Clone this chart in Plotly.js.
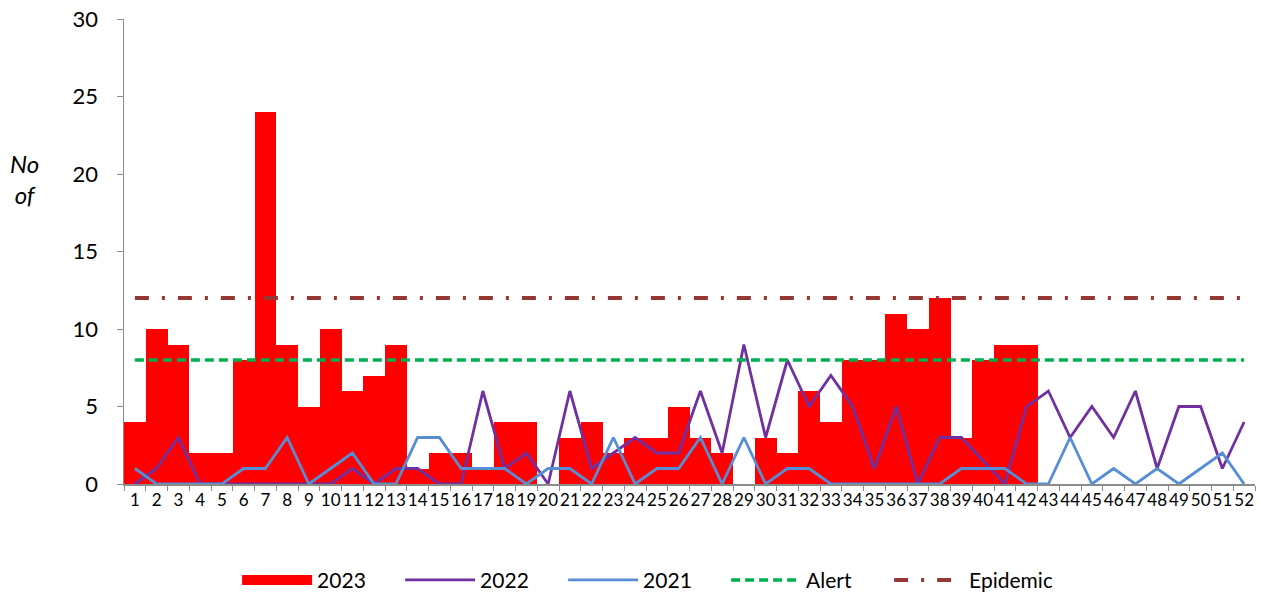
<!DOCTYPE html>
<html>
<head>
<meta charset="utf-8">
<script src="https://cdn.plot.ly/plotly-3.0.1.min.js"></script>
<style>html,body{margin:0;padding:0;background:#fff}#chart{width:1270px;height:596px}</style>
</head>
<body>
<div id="chart"></div>
<script>
const weeks = ['1','2','3','4','5','6','7','8','9','10','11','12','13','14','15','16','17','18','19','20','21','22','23','24','25','26','27','28','29','30','31','32','33','34','35','36','37','38','39','40','41','42','43','44','45','46','47','48','49','50','51','52'];
const cases2023 = [4,10,9,2,2,8,24,9,5,10,6,7,9,1,2,2,1,4,4,0,3,4,2,3,3,5,3,2,0,3,2,6,4,8,8,11,10,12,3,8,9,9,null,null,null,null,null,null,null,null,null,null];
const cases2022 = [0,1,3,0,0,0,0,0,0,0,1,0,1,1,0,0,6,1,2,0,6,1,2,3,2,2,6,2,9,3,8,5,7,5,1,5,0,3,3,1.5,0,5,6,3,5,3,6,1,5,5,1,4];
const cases2021 = [1,0,0,0,0,1,1,3,0,1,2,0,0,3,3,1,1,1,0,1,1,0,3,0,1,1,3,0,3,0,1,1,0,0,0,0,0,0,1,1,1,0,0,3,0,1,0,1,0,1,2,0];
const alertLevel = [8,8,8,8,8,8,8,8,8,8,8,8,8,8,8,8,8,8,8,8,8,8,8,8,8,8,8,8,8,8,8,8,8,8,8,8,8,8,8,8,8,8,8,8,8,8,8,8,8,8,8,8];
const epidemicLevel = [12,12,12,12,12,12,12,12,12,12,12,12,12,12,12,12,12,12,12,12,12,12,12,12,12,12,12,12,12,12,12,12,12,12,12,12,12,12,12,12,12,12,12,12,12,12,12,12,12,12,12,12];

const FONT = 'Lato, "Open Sans", "Liberation Sans", sans-serif';

const traces = [
  {type:'bar', name:'2023', x:weeks, y:cases2023, marker:{color:'#FF0000', line:{width:0}}, showlegend:false},
  // legend-only proxy giving the wide red key of the original
  {type:'scatter', mode:'lines', name:'2023', x:[null], y:[null], line:{color:'#FF0000', width:14}},
  {type:'scatter', mode:'lines', name:'2022', x:weeks, y:cases2022, line:{color:'#7030A0', width:2.8}},
  {type:'scatter', mode:'lines', name:'2021', x:weeks, y:cases2021, line:{color:'#558ED5', width:2.8}},
  {type:'scatter', mode:'lines', name:'Alert', x:weeks, y:alertLevel, line:{color:'#00B050', width:3.5, dash:'9px,5px'}},
  {type:'scatter', mode:'lines', name:'Epidemic', x:weeks, y:epidemicLevel, line:{color:'#953735', width:4, dash:'14px,13px,3px,13px'}}
];

const layout = {
  width:1270, height:596,
  margin:{l:124, r:15, t:19, b:112, autoexpand:false},
  paper_bgcolor:'#fff', plot_bgcolor:'#fff',
  bargap:0,
  showlegend:true,
  font:{family:FONT, color:'#000'},
  xaxis:{
    type:'category', tickson:'boundaries', tickangle:0, automargin:false,
    showgrid:false, zeroline:false,
    showline:true, linecolor:'#8c8c8c', linewidth:1.5,
    ticks:'outside', ticklen:5, tickcolor:'#8c8c8c',
    tickfont:{family:FONT, size:17, color:'#000'},
    range:[-0.5, 51.5]
  },
  yaxis:{
    range:[0,30], dtick:5, tick0:0, automargin:false,
    showgrid:false, zeroline:false,
    showline:true, linecolor:'#8c8c8c', linewidth:1.5,
    ticks:'outside', ticklen:6, tickcolor:'#8c8c8c',
    tickfont:{family:FONT, size:22, color:'#000'},
    ticklabelstandoff:14
  },
  legend:{
    orientation:'h', x:0.1, xanchor:'left', y:-0.163, yanchor:'top',
    font:{family:FONT, size:21, color:'#000'},
    itemwidth:70, entrywidth:78, tracegroupgap:0
  },
  annotations:[
    {text:'<i>No<br>of</i>', xref:'paper', yref:'paper', x:-0.088, y:0.655, xanchor:'center', yanchor:'middle',
     showarrow:false, align:'center', font:{family:FONT, size:24, color:'#000'}}
  ]
};

Plotly.newPlot('chart', traces, layout, {displayModeBar:false, staticPlot:true});
</script>
</body>
</html>
